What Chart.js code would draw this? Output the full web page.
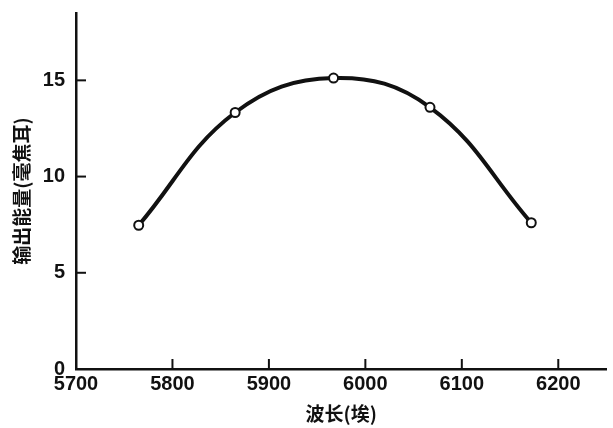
<!DOCTYPE html>
<html>
<head>
<meta charset="utf-8">
<script src="https://cdn.jsdelivr.net/npm/chart.js@4/dist/chart.umd.min.js"></script>
<style>
html,body{margin:0;padding:0;background:#fff;}
#wrap{width:613px;height:428px;position:relative;}
</style>
</head>
<body>
<div id="wrap"><canvas id="c" width="613" height="428"></canvas></div>
<script>
// Data
const wavelengths = [5765, 5865, 5967, 6067, 6172];
const energies = [7.47, 13.33, 15.12, 13.6, 7.6];
const xTickValues = [5700, 5800, 5900, 6000, 6100, 6200];
const yTickValues = [0, 5, 10, 15];
const xTitle = '波长(埃)';
const yTitle = '输出能量(毫焦耳)';

const ink = '#111';
const tickFont = {family: "'Liberation Sans Narrow', 'Liberation Sans', sans-serif", size: 20, weight: 'bold'};
const titleFont = {family: "'Noto Sans CJK SC', sans-serif", size: 19, weight: 'bold'};

const innerTicks = {
  id: 'innerTicks',
  afterDraw(chart) {
    const ctx = chart.ctx;
    const xs = chart.scales.x, ys = chart.scales.y;
    const y0 = ys.getPixelForValue(0);
    const x0 = xs.getPixelForValue(xTickValues[0]);
    ctx.save();
    ctx.strokeStyle = ink;
    ctx.lineWidth = 2;
    xTickValues.forEach(v => {
      if (v === xTickValues[0]) return;
      const px = xs.getPixelForValue(v);
      ctx.beginPath(); ctx.moveTo(px, y0); ctx.lineTo(px, y0 - 10); ctx.stroke();
    });
    yTickValues.forEach(v => {
      if (v === 0) return;
      const py = ys.getPixelForValue(v);
      ctx.beginPath(); ctx.moveTo(x0, py); ctx.lineTo(x0 + 10, py); ctx.stroke();
    });
    ctx.restore();
  }
};

new Chart(document.getElementById('c'), {
  type: 'line',
  data: {
    datasets: [{
      data: wavelengths.map((w, i) => ({x: w, y: energies[i]})),
      borderColor: ink,
      borderWidth: 4,
      tension: 0.4,
      pointRadius: 4.5,
      pointBorderWidth: 2,
      pointBackgroundColor: '#fff',
      pointBorderColor: ink,
      fill: false
    }]
  },
  options: {
    responsive: false,
    animation: false,
    layout: {padding: {top: 13, right: 4, left: 0, bottom: 0}},
    plugins: {legend: {display: false}, tooltip: {enabled: false}},
    scales: {
      x: {
        type: 'linear',
        min: 5700, max: 6250,
        afterBuildTicks(scale) { scale.ticks = xTickValues.map(v => ({value: v})); },
        afterFit(scale) { scale.height = 59; scale.paddingLeft = 0; scale.paddingRight = 0; },
        grid: {drawOnChartArea: false, drawTicks: false},
        border: {display: true, color: ink, width: 2.5},
        ticks: {color: ink, font: tickFont, padding: 3, maxRotation: 0, autoSkip: false,
                callback: v => String(v)},
        title: {display: true, text: xTitle, color: ink, font: titleFont, padding: {top: 0, bottom: 3}}
      },
      y: {
        type: 'linear',
        min: 0, max: 18.5,
        afterBuildTicks(scale) { scale.ticks = yTickValues.map(v => ({value: v})); },
        afterFit(scale) { scale.width = 76; scale.paddingTop = 0; scale.paddingBottom = 0; },
        grid: {drawOnChartArea: false, drawTicks: false},
        border: {display: true, color: ink, width: 2.5},
        ticks: {color: ink, font: tickFont, padding: 11, autoSkip: false,
                callback: v => String(v)},
        title: {display: true, text: yTitle, color: ink, font: titleFont, padding: {top: 10, bottom: 0}}
      }
    }
  },
  plugins: [innerTicks]
});
</script>
</body>
</html>
